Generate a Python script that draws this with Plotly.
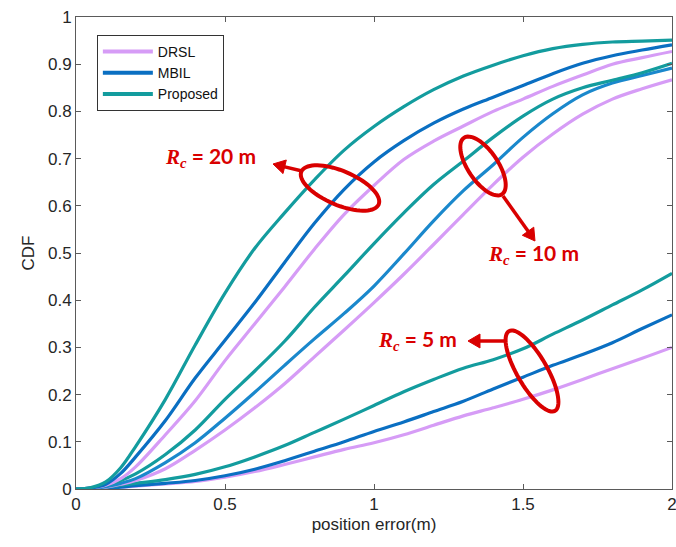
import math
import plotly.graph_objects as go

# ---------------- data ----------------
x_err = [0, 0.05, 0.1, 0.15, 0.2, 0.3, 0.4, 0.5, 0.6, 0.7, 0.8, 0.9, 1.0,
         1.1, 1.2, 1.3, 1.4, 1.5, 1.6, 1.7, 1.8, 1.9, 2.0]

# Rc = 20 m
drsl_20 = [0, 0.002, 0.008, 0.022, 0.047, 0.115, 0.187, 0.272, 0.35, 0.428, 0.508, 0.582, 0.643,
           0.698, 0.737, 0.769, 0.80, 0.826, 0.853, 0.877, 0.90, 0.914, 0.927]
mbil_20 = [0, 0.002, 0.01, 0.033, 0.068, 0.145, 0.235, 0.315, 0.395, 0.48, 0.563, 0.635, 0.693,
           0.738, 0.775, 0.805, 0.83, 0.855, 0.88, 0.902, 0.918, 0.93, 0.941]
prop_20 = [0, 0.003, 0.015, 0.045, 0.09, 0.19, 0.305, 0.415, 0.51, 0.585, 0.655, 0.718, 0.768,
           0.81, 0.846, 0.875, 0.898, 0.918, 0.933, 0.942, 0.947, 0.949, 0.951]

# Rc = 10 m
drsl_10 = [0, 0.001, 0.004, 0.01, 0.018, 0.043, 0.082, 0.125, 0.172, 0.223, 0.28, 0.337, 0.395,
           0.455, 0.518, 0.582, 0.645, 0.703, 0.752, 0.794, 0.826, 0.848, 0.867]
mbil_10 = [0, 0.001, 0.005, 0.012, 0.022, 0.056, 0.098, 0.15, 0.205, 0.262, 0.318, 0.372, 0.43,
           0.498, 0.568, 0.632, 0.687, 0.745, 0.795, 0.835, 0.86, 0.876, 0.892]
prop_10 = [0, 0.002, 0.008, 0.018, 0.032, 0.073, 0.125, 0.19, 0.25, 0.313, 0.385, 0.452, 0.52,
           0.585, 0.645, 0.695, 0.745, 0.79, 0.826, 0.85, 0.866, 0.882, 0.902]

# Rc = 5 m
drsl_5 = [0, 0.001, 0.002, 0.004, 0.006, 0.011, 0.016, 0.025, 0.037, 0.052, 0.068, 0.084, 0.098,
          0.115, 0.135, 0.155, 0.172, 0.19, 0.21, 0.232, 0.255, 0.277, 0.30]
mbil_5 = [0, 0.001, 0.002, 0.004, 0.007, 0.012, 0.018, 0.028, 0.042, 0.06, 0.08, 0.1, 0.122,
          0.142, 0.164, 0.186, 0.212, 0.237, 0.262, 0.285, 0.31, 0.34, 0.369]
prop_5 = [0, 0.001, 0.004, 0.008, 0.012, 0.02, 0.031, 0.047, 0.068, 0.092, 0.12, 0.148, 0.177,
          0.206, 0.232, 0.256, 0.274, 0.297, 0.328, 0.358, 0.39, 0.422, 0.457]

series_names = ["DRSL", "MBIL", "Proposed"]
x_ticks = [0, 0.5, 1, 1.5, 2]
x_tick_labels = ["0", "0.5", "1", "1.5", "2"]
y_ticks = [0, 0.1, 0.2, 0.3, 0.4, 0.5, 0.6, 0.7, 0.8, 0.9, 1]
y_tick_labels = ["0", "0.1", "0.2", "0.3", "0.4", "0.5", "0.6", "0.7", "0.8", "0.9", "1"]

# ---------------- styling ----------------
COL_DRSL = "#D69CF6"
COL_MBIL = "#0A6FC2"
COL_MBIL_LIGHT = "#1A88CC"
COL_PROP = "#139C9E"
RED = "#D90000"
FONT = "Liberation Sans, Arial, sans-serif"

W, H = 676, 547
L, R, T, B = 76, 4, 17, 58
PW, PH = W - L - R, H - T - B

fig = go.Figure()

groups = [
    (drsl_5, mbil_5, prop_5, COL_MBIL),
    (drsl_10, mbil_10, prop_10, COL_MBIL_LIGHT),
    (drsl_20, mbil_20, prop_20, COL_MBIL),
]
for d, m, p, mcol in groups:
    for name, ys, col in zip(series_names, [d, m, p], [COL_DRSL, mcol, COL_PROP]):
        fig.add_trace(go.Scatter(
            x=x_err, y=ys, mode="lines", name=name, legendgroup=name,
            showlegend=False, line=dict(color=col, width=3.2, shape="spline", smoothing=1.0),
            hoverinfo="skip"))

# legend entries
for name, col in zip(series_names, [COL_DRSL, COL_MBIL, COL_PROP]):
    fig.add_trace(go.Scatter(x=[None], y=[None], mode="lines", name=name,
                             line=dict(color=col, width=4)))


def px2paper(px, py):
    return (px - L) / PW, (H - B - py) / PH


def path_from_px(points, close=True):
    pts = [px2paper(px, py) for px, py in points]
    s = "M " + " L ".join(f"{x:.5f},{y:.5f}" for x, y in pts)
    return s + (" Z" if close else "")


def ellipse_pts(cx, cy, a, b, ang_deg, n=72):
    ang = math.radians(ang_deg)
    pts = []
    for i in range(n + 1):
        t = 2 * math.pi * i / n
        ex, ey = a * math.cos(t), b * math.sin(t)
        pts.append((cx + ex * math.cos(ang) - ey * math.sin(ang),
                    cy + ex * math.sin(ang) + ey * math.cos(ang)))
    return pts


shapes = []
for cx, cy, a, b, ang in [(340, 188, 42, 17, 23), (483, 166, 34, 15, 56), (532, 371, 46, 15, 60)]:
    shapes.append(dict(type="path", xref="paper", yref="paper",
                       path=path_from_px(ellipse_pts(cx, cy, a, b, ang)),
                       line=dict(color=RED, width=4), fillcolor="rgba(0,0,0,0)"))

# arrows: shaft + filled triangular head
for (tx, ty), (hx, hy) in [((302, 171), (273, 164)), ((503, 196), (535, 241)), ((505, 341), (468, 341))]:
    dx, dy = hx - tx, hy - ty
    ln = math.hypot(dx, dy)
    ux, uy = dx / ln, dy / ln
    head_len, head_w = 12, 7
    bx, by = hx - ux * head_len, hy - uy * head_len
    nx, ny = -uy, ux
    shapes.append(dict(type="path", xref="paper", yref="paper",
                       path=path_from_px([(tx, ty), (bx + ux * 2, by + uy * 2)], close=False),
                       line=dict(color=RED, width=3.5)))
    shapes.append(dict(type="path", xref="paper", yref="paper",
                       path=path_from_px([(hx, hy), (bx + nx * head_w, by + ny * head_w),
                                          (bx - nx * head_w, by - ny * head_w)]),
                       line=dict(color=RED, width=1), fillcolor=RED))

annotations = []
for txt, (px, py) in [("20", (210, 157)), ("10", (533, 254)), ("5", (417, 340))]:
    xp, yp = px2paper(px, py)
    annotations.append(dict(xref="paper", yref="paper", x=xp, y=yp, showarrow=False,
                            text=(f"<span style='font-family:Liberation Serif, DejaVu Serif, serif'>"
                                  f"<b><i>R<sub>c</sub></i></b></span><b> = {txt} m</b>"),
                            font=dict(family="Lato, Open Sans, sans-serif", size=21, color=RED),
                            xanchor="center", yanchor="middle"))

axis_common = dict(showgrid=False, zeroline=False, showline=True, linecolor="#5a5a5a",
                   linewidth=1, mirror="ticks", ticks="inside", ticklen=5,
                   tickcolor="#5a5a5a", automargin=False, ticklabeloverflow="allow",
                   tickfont=dict(family=FONT, size=17, color="#262626"))

fig.update_layout(
    width=W, height=H, autosize=False,
    margin=dict(l=L, r=R, t=T, b=B, pad=0, autoexpand=False),
    paper_bgcolor="white", plot_bgcolor="white",
    font=dict(family=FONT, color="#262626"),
    xaxis=dict(range=[0, 2], tickvals=x_ticks, ticktext=x_tick_labels,
               title=dict(text="position error(m)", font=dict(size=17, family=FONT), standoff=4),
               **axis_common),
    yaxis=dict(range=[0, 1], tickvals=y_ticks, ticktext=y_tick_labels,
               title=dict(text="CDF", font=dict(size=17, family=FONT), standoff=9),
               **axis_common),
    legend=dict(x=0.035, y=0.962, xanchor="left", yanchor="top", bgcolor="white",
                bordercolor="#333", borderwidth=1, font=dict(family=FONT, size=14, color="#111"),
                tracegroupgap=0, itemwidth=50),
    shapes=shapes,
    annotations=annotations,
    showlegend=True,
)

fig.write_html(
    "out.html",
    config={"responsive": False, "displayModeBar": False},
    post_script="document.body.style.margin='0px';document.body.style.overflow='hidden';",
)
